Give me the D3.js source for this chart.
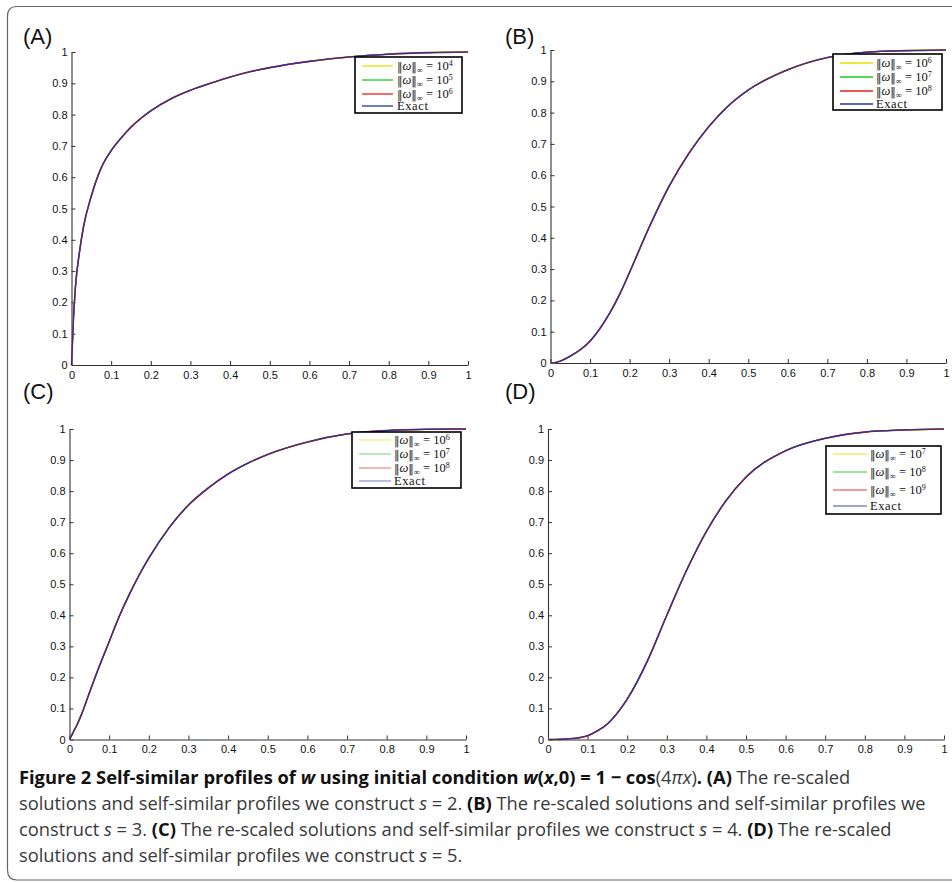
<!DOCTYPE html>
<html><head><meta charset="utf-8">
<script src="https://cdn.jsdelivr.net/npm/d3@7"></script>
<style>
html,body{margin:0;padding:0;background:#fff;}
svg{display:block;}
</style></head>
<body>
<svg id="chart" width="952" height="883"></svg>
<script>
// ---------------- data ----------------
const xs = [0, 0.005, 0.01, 0.02, 0.03, 0.05, 0.075, 0.1, 0.125, 0.15, 0.175, 0.2, 0.25, 0.3, 0.35, 0.4, 0.45, 0.5, 0.6, 0.7, 0.8, 0.9, 1];
const profileA = [0, 0.15, 0.25, 0.36, 0.44, 0.54, 0.63, 0.685, 0.725, 0.76, 0.788, 0.812, 0.85, 0.878, 0.90, 0.92, 0.937, 0.95, 0.97, 0.984, 0.993, 0.998, 1];
const profileB = [0, 0, 0.001, 0.004, 0.009, 0.022, 0.042, 0.07, 0.11, 0.16, 0.22, 0.29, 0.435, 0.565, 0.67, 0.755, 0.822, 0.872, 0.937, 0.976, 0.993, 0.998, 1];
const profileC = [0, 0.012, 0.025, 0.05, 0.08, 0.15, 0.235, 0.315, 0.395, 0.465, 0.528, 0.584, 0.68, 0.755, 0.81, 0.855, 0.89, 0.918, 0.958, 0.984, 0.995, 0.999, 1];
const profileD = [0, 0, 0, 0, 0.0005, 0.002, 0.005, 0.012, 0.028, 0.05, 0.085, 0.13, 0.25, 0.40, 0.545, 0.67, 0.77, 0.845, 0.93, 0.97, 0.99, 0.997, 1];
const panelLabels = ["(A)", "(B)", "(C)", "(D)"];
const legendExponents = [["4", "5", "6"], ["6", "7", "8"], ["6", "7", "8"], ["7", "8", "9"]];
const seriesNames = ["sol1", "sol2", "sol3", "Exact"];
const xTicks = [0, 0.1, 0.2, 0.3, 0.4, 0.5, 0.6, 0.7, 0.8, 0.9, 1];
const yTicks = [0, 0.1, 0.2, 0.3, 0.4, 0.5, 0.6, 0.7, 0.8, 0.9, 1];

// ---------------- layout / style ----------------
const seriesColors = ["#e8e000", "#22c422", "#ee1c1c", "#2233aa"];
const seriesWidths = [1.3, 1.3, 1.6, 1.2];
const panels = [
  {prof: profileA, x0: 71.5, x1: 468, y0: 365, y1: 52, lab: [23, 44],
   leg: {x: 355, y: 57, w: 107, h: 56, l0: 362, l1: 393, tx: 397, rows: [66, 80, 94, 106], op: 1}},
  {prof: profileB, x0: 550.5, x1: 946, y0: 363, y1: 50, lab: [505, 44],
   leg: {x: 833, y: 54, w: 109, h: 56, l0: 840, l1: 873, tx: 876, rows: [63, 77, 91, 104], op: 1}},
  {prof: profileC, x0: 69.5, x1: 466, y0: 739.5, y1: 429, lab: [23, 399],
   leg: {x: 352, y: 432, w: 109, h: 56, l0: 359, l1: 391, tx: 394, rows: [440, 454, 468, 481], op: 0.5}},
  {prof: profileD, x0: 548, x1: 944, y0: 739.5, y1: 429, lab: [505, 399],
   leg: {x: 826, y: 446, w: 115, h: 68, l0: 833, l1: 867, tx: 870, rows: [454, 472, 490, 506], op: 0.6}}
];

const svg = d3.select("#chart");

// frame
svg.append("path")
  .attr("d", "M 960 6.5 H 17 Q 7.5 6.5 7.5 16 V 870 Q 7.5 880 17 880 H 960")
  .attr("fill", "none").attr("stroke", "#666").attr("stroke-width", 1.2);

panels.forEach((p, pi) => {
  const x = d3.scaleLinear().domain([0, 1]).range([p.x0, p.x1]);
  const y = d3.scaleLinear().domain([0, 1]).range([p.y0, p.y1]);
  const g = svg.append("g");

  // axes
  const fmt = d3.format("~g");
  const ax = g.append("g").attr("transform", `translate(0,${p.y0})`)
    .call(d3.axisBottom(x).tickValues(xTicks).tickFormat(fmt).tickSizeInner(-4).tickSizeOuter(0).tickPadding(6));
  const ay = g.append("g").attr("transform", `translate(${p.x0},0)`)
    .call(d3.axisLeft(y).tickValues(yTicks).tickFormat(fmt).tickSizeInner(-4).tickSizeOuter(0).tickPadding(4));
  [ax, ay].forEach(a => {
    a.selectAll("text").attr("font-family", "Liberation Sans, Arial, sans-serif").attr("font-size", 11).attr("fill", "#111");
    a.selectAll("line").attr("stroke", "#333");
    a.select(".domain").attr("stroke", "#333").attr("stroke-width", 1.1);
  });

  // curves
  const line = d3.line().x((d, i) => x(xs[i])).y(d => y(d)).curve(d3.curveMonotoneX);
  seriesNames.forEach((s, si) => {
    g.append("path").datum(p.prof)
      .attr("d", line)
      .attr("fill", "none")
      .attr("stroke", seriesColors[si])
      .attr("stroke-width", seriesWidths[si]);
  });

  // panel label
  svg.append("text").attr("x", p.lab[0]).attr("y", p.lab[1])
    .attr("font-family", "Liberation Sans, Arial, sans-serif").attr("font-size", 22)
    .attr("fill", "#111").text(panelLabels[pi]);

  // legend
  const L = p.leg;
  const lg = svg.append("g");
  lg.append("rect").attr("x", L.x).attr("y", L.y).attr("width", L.w).attr("height", L.h)
    .attr("fill", "#fff").attr("stroke", "#000").attr("stroke-width", 1.6);
  seriesNames.forEach((s, si) => {
    const ry = L.rows[si];
    lg.append("line").attr("x1", L.l0).attr("x2", L.l1).attr("y1", ry).attr("y2", ry)
      .attr("stroke", seriesColors[si]).attr("stroke-width", 1.3).attr("stroke-opacity", L.op);
    const t = lg.append("text").attr("x", L.tx).attr("y", ry + 4)
      .attr("font-family", "Liberation Serif, Times New Roman, serif").attr("font-size", 12.5).attr("fill", "#111");
    if (si < 3) {
      t.append("tspan").attr("font-family", "DejaVu Serif").attr("font-size", 11).text("\u2016");
      t.append("tspan").attr("font-style", "italic").text("\u03c9");
      t.append("tspan").attr("font-family", "DejaVu Serif").attr("font-size", 11).text("\u2016");
      t.append("tspan").attr("dy", 2.5).attr("font-size", 8.5).text("\u221e");
      t.append("tspan").attr("dy", -2.5).text(" = 10");
      t.append("tspan").attr("dy", -4).attr("font-size", 8).text(legendExponents[pi][si]);
    } else {
      t.attr("letter-spacing", 0.6).text("Exact");
    }
  });
});

// ---------------- caption ----------------
const capLines = [
  {y: 784, w: 852, parts: [
    ["Figure 2 Self-similar profiles of ", "b"], ["w", "bi"], [" using initial condition ", "b"], ["w", "bi"], ["(", "b"], ["x", "bi"],
    [",0) = 1 \u2212 cos", "b"], ["(4", "n"], ["\u03c0x", "i"], [")", "n"], [".", "b"], [" (A)", "b"], [" The re-scaled", "n"]]},
  {y: 810, w: 910, parts: [
    ["solutions and self-similar profiles we construct ", "n"], ["s", "i"], [" = 2. ", "n"], ["(B)", "b"],
    [" The re-scaled solutions and self-similar profiles we", "n"]]},
  {y: 836, w: 849, parts: [
    ["construct ", "n"], ["s", "i"], [" = 3. ", "n"], ["(C)", "b"], [" The re-scaled solutions and self-similar profiles we construct ", "n"],
    ["s", "i"], [" = 4. ", "n"], ["(D)", "b"], [" The re-scaled", "n"]]},
  {y: 862, w: null, parts: [
    ["solutions and self-similar profiles we construct ", "n"], ["s", "i"], [" = 5.", "n"]]}
];
const capNodes = capLines.map(cl => {
  const t = svg.append("text").attr("x", 0).attr("y", 0)
    .attr("font-family", "Open Sans, Liberation Sans, sans-serif")
    .attr("font-size", 18.5).attr("fill", "#3a3a3a").attr("xml:space", "preserve");
  cl.parts.forEach(([s, st]) => {
    const ts = t.append("tspan").text(s);
    if (st.includes("b")) ts.attr("font-weight", "bold").attr("fill", "#111");
    if (st.includes("i")) ts.attr("font-style", "italic");
  });
  return t;
});
// one common horizontal scale, derived from the three full lines
const ratios = capLines.filter(c => c.w).map((c, i) => c.w / capNodes[i].node().getComputedTextLength());
const sx = d3.mean(ratios);
capNodes.forEach((t, i) => t.attr("transform", `translate(19,${capLines[i].y}) scale(${sx},1)`));
</script>
</body></html>
